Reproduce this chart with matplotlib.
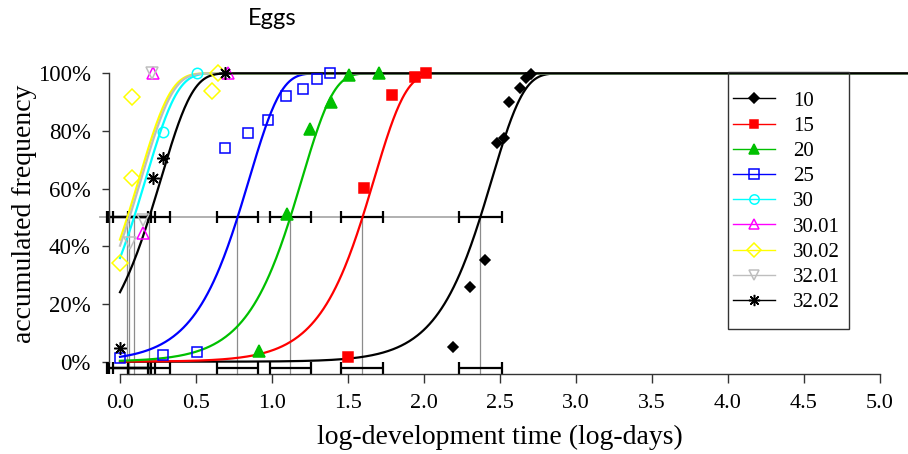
import numpy as np
import matplotlib
matplotlib.use('Agg')
import matplotlib.pyplot as plt
from matplotlib.lines import Line2D
from matplotlib.patches import Rectangle

# series
labels = ['10', '15', '20', '25', '30', '30.01', '30.02', '32.01', '32.02']
colors = ['black', 'red', '#00c000', 'blue', 'cyan', 'magenta', '#ffff00', '#bebebe', 'black']
markers = ['D', 's', '^', 's', 'o', '^', 'D', 'v', (8, 2, 0)]
filled = [True, True, True, False, False, False, False, False, True]
msizes = [5.5, 7, 8, 7.5, 7.5, 8.5, 8, 8.5, 9]

# observed accumulated frequency (log-days, fraction)
obs_x = [
    [2.193, 2.303, 2.401, 2.483, 2.526, 2.561, 2.632, 2.671, 2.704],
    [1.502, 1.607, 1.789, 1.943, 2.013],
    [0.914, 1.097, 1.250, 1.388, 1.507, 1.704],
    [0.0, 0.285, 0.507, 0.691, 0.844, 0.976, 1.092, 1.201, 1.296, 1.382],
    [0.285, 0.504],
    [0.153, 0.219, 0.713],
    [0.0, 0.077, 0.077, 0.603, 0.647],
    [0.066, 0.150, 0.208],
    [0.0, 0.219, 0.285, 0.691],
]
obs_y = [
    [0.052, 0.258, 0.353, 0.757, 0.775, 0.902, 0.950, 0.983, 0.998],
    [0.015, 0.603, 0.925, 0.988, 1.0],
    [0.038, 0.512, 0.808, 0.902, 0.994, 1.0],
    [0.012, 0.023, 0.035, 0.740, 0.794, 0.838, 0.922, 0.944, 0.979, 1.0],
    [0.797, 1.0],
    [0.447, 1.0, 1.0],
    [0.341, 0.638, 0.917, 0.939, 1.0],
    [0.413, 0.49, 1.0],
    [0.049, 0.638, 0.705, 1.0],
]

# fitted medians (log-days) and their confidence limits; 30.01 has no fit
median = [2.370, 1.595, 1.120, 0.773, 0.092, None, 0.048, 0.062, 0.192]
ci_lo = [2.230, 1.456, 0.985, 0.636, -0.046, None, -0.088, -0.072, 0.055]
ci_hi = [2.510, 1.730, 1.257, 0.910, 0.228, None, 0.186, 0.202, 0.329]
slope = 4.8   # common slope of the cloglog model

xticks = np.arange(0, 5.01, 0.5)
yticks = [0, 0.2, 0.4, 0.6, 0.8, 1.0]

serif = ['Liberation Serif', 'DejaVu Serif']

W, H = 908, 454
fig = plt.figure(figsize=(W / 100, H / 100), dpi=100)
# axes spans pixels x 90..908, y 60..380
ax = fig.add_axes([90 / W, 1 - 380 / H, 818 / W, 320 / H])
x0, px_per_x = 120.0, 152.0
y0, px_per_y = 361.7, 288.4
ax.set_xlim((90 - x0) / px_per_x, (908 - x0) / px_per_x)
ax.set_ylim((y0 - 380) / px_per_y, (y0 - 60) / px_per_y)
y_axis_pos = (109.3 - x0) / px_per_x
x_axis_pos = (y0 - 374) / px_per_y
bar_low = (y0 - 368.3) / px_per_y


def cloglog(x, m):
    return 1 - 0.5 ** np.exp(slope * (x - m))


xs = np.linspace(0, 5.3, 800)

# 50% reference line
his = [h for h in ci_hi if h is not None]
ax.plot([-0.13, max(his)], [0.5, 0.5], color='#aaaaaa', lw=1.3, zorder=1)

for i in range(len(labels)):
    m = median[i]
    if m is None:
        continue
    ax.plot([m, m], [0.5, x_axis_pos], color='#8c8c8c', lw=0.9, zorder=1)
    for yy in (0.5, bar_low):
        ax.errorbar([m], [yy], xerr=[[m - ci_lo[i]], [ci_hi[i] - m]], fmt='none',
                    ecolor='black', elinewidth=1.6, capsize=4.2, capthick=1.6, zorder=2)

for i in range(len(labels)):
    if median[i] is not None:
        ax.plot(xs, cloglog(xs, median[i]), color=colors[i], lw=1.6, zorder=3)

handles = []
for i in range(len(labels)):
    mfc = colors[i] if filled[i] else 'none'
    ax.plot(obs_x[i], obs_y[i], linestyle='none', marker=markers[i], ms=msizes[i],
            mfc=mfc, mec=colors[i], mew=1.1, zorder=4, clip_on=False)
    handles.append(Line2D([], [], color=colors[i], lw=1.0, marker=markers[i],
                          ms=msizes[i] * 0.9, mfc=mfc, mec=colors[i], mew=1.1))

# axes
for s in ['top', 'right']:
    ax.spines[s].set_visible(False)
ax.spines['left'].set_position(('data', y_axis_pos))
ax.spines['left'].set_bounds(0, 1)
ax.spines['bottom'].set_position(('data', x_axis_pos))
ax.spines['bottom'].set_bounds(0, 5)
for s in ['left', 'bottom']:
    ax.spines[s].set_color('#333333')
    ax.spines[s].set_linewidth(1.0)
ax.set_xticks(xticks)
ax.set_xticklabels(['%.1f' % t for t in xticks], fontfamily=serif, fontsize=16)
ax.set_yticks(yticks)
ax.set_yticklabels(['%d%%' % round(t * 100) for t in yticks], fontfamily=serif, fontsize=16.5)
ax.tick_params(axis='x', length=6.5, width=1.0, color='#333333', pad=8)
ax.tick_params(axis='y', length=5.4, width=1.0, color='#333333', pad=8)
ax.patch.set_visible(False)

fig.text(500 / W, 1 - 437 / H, 'log-development time (log-days)', ha='center', va='center',
         fontfamily=serif, fontsize=20)
fig.text(25 / W, 1 - 214 / H, 'accumulated frequency', ha='center', va='center',
         rotation=90, fontfamily=serif, fontsize=20)
fig.text(248 / W, 1 - 25 / H, 'Eggs', ha='left', va='baseline', fontfamily='Lato', fontsize=17)

# legend box
fig.patches.append(Rectangle((728 / W, 1 - 329 / H), 121 / W, 257 / H, transform=fig.transFigure,
                             fill=False, edgecolor='#333333', lw=1.0))
fig.legend(handles, labels, loc='upper left', bbox_to_anchor=(733 / W, 1 - 91 / H),
           frameon=False, borderpad=0, borderaxespad=0, handlelength=2.0, handletextpad=0.9,
           labelspacing=0.27, prop={'family': serif, 'size': 15})

fig.savefig('out.png', dpi=100, facecolor='white')
